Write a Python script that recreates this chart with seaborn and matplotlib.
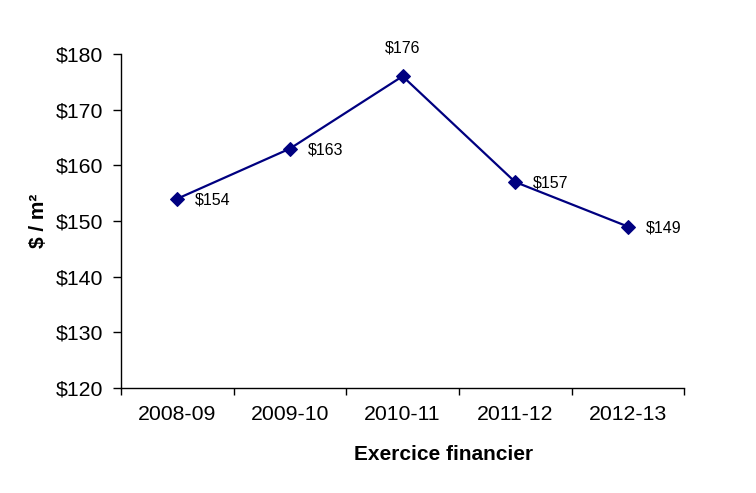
import matplotlib
matplotlib.use("Agg")
import matplotlib.pyplot as plt
import seaborn as sns
import pandas as pd

categories = ["2008-09", "2009-10", "2010-11", "2011-12", "2012-13"]
values = [154, 163, 176, 157, 149]
labels = ["$154", "$163", "$176", "$157", "$149"]
yticks = [120, 130, 140, 150, 160, 170, 180]

sns.set_theme(style="white")
plt.rcParams['font.family'] = ['Liberation Sans', 'DejaVu Sans']
plt.rcParams['text.color'] = 'black'
plt.rcParams['axes.labelcolor'] = 'black'
plt.rcParams['xtick.color'] = 'black'
plt.rcParams['ytick.color'] = 'black'

df = pd.DataFrame({"x": list(range(len(categories))), "y": values})

fig = plt.figure(figsize=(7.56, 4.93), dpi=100)
ax = fig.add_axes([0.160, 0.213, 0.745, 0.6775])
sns.lineplot(data=df, x="x", y="y", ax=ax, color="#000080", linewidth=1.6,
             marker="D", markersize=7.5, markeredgecolor="#000080",
             markerfacecolor="#000080")

ax.set_xlim(-0.5, len(categories) - 0.5)
ax.set_ylim(120, 180)
ax.set_yticks(yticks)
ax.set_yticklabels([f"${v}" for v in yticks], fontsize=15.3)
ax.set_xticks(range(len(categories)))
ax.set_xticklabels(categories, fontsize=15.3)
ax.tick_params(axis="x", length=0, pad=12)
ax.set_xticks([i - 0.5 for i in range(len(categories) + 1)], minor=True)
ax.tick_params(axis="x", which="minor", length=5, width=1, color="black", direction="out", bottom=True)
ax.tick_params(axis="y", length=6, width=1, color="black", direction="out", left=True, pad=7)

for s in ["top", "right"]:
    ax.spines[s].set_visible(False)
for s in ["left", "bottom"]:
    ax.spines[s].set_color("black")
    ax.spines[s].set_linewidth(1)

for i, (v, lab) in enumerate(zip(values, labels)):
    if i == 2:
        ax.annotate(lab, (i, v), xytext=(0, 20), textcoords="offset points",
                    ha="center", va="center", fontsize=11.5)
    else:
        ax.annotate(lab, (i, v), xytext=(13, -1), textcoords="offset points",
                    ha="left", va="center", fontsize=11.5)

ax.set_xlabel("Exercice financier", fontsize=15, fontweight="bold")
ax.xaxis.set_label_coords(0.573, -0.171)
ax.set_ylabel("$ / m²", fontsize=15, fontweight="bold")
ax.yaxis.set_label_coords(-0.129, 0.5)

fig.savefig("out.png", dpi=100)
